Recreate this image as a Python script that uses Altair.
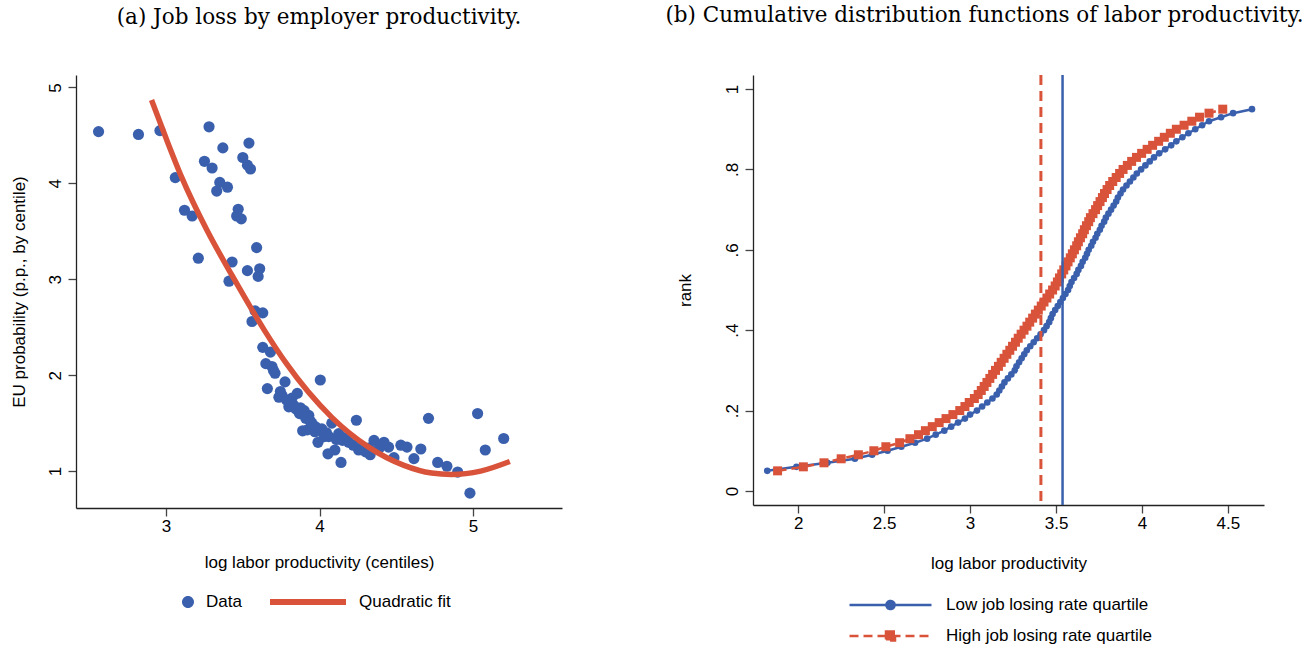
import altair as alt
import pandas as pd

BLUE = "#3a60ad"
RED = "#d9533b"
SANS = "Liberation Sans"
SERIF = "DejaVu Serif"

# ---------------- panel (a): job loss by employer productivity ----------------
data_x = [2.56, 2.82, 2.96, 3.06, 3.12, 3.17, 3.21, 3.25, 3.28, 3.30, 3.33, 3.35,
          3.37, 3.40, 3.41, 3.43, 3.46, 3.47, 3.49, 3.50, 3.53, 3.53, 3.54, 3.55,
          3.56, 3.58, 3.59, 3.60, 3.61, 3.63, 3.63, 3.65, 3.66, 3.68, 3.69, 3.70,
          3.71, 3.735, 3.745, 3.755, 3.775, 3.785, 3.80, 3.81, 3.82, 3.83, 3.845,
          3.855, 3.865, 3.87, 3.875, 3.89, 3.90, 3.91, 3.92, 3.93, 3.94, 3.95,
          3.96, 3.97, 3.975, 3.99, 4.005, 4.015, 4.03, 4.045, 4.055, 4.06, 4.08,
          4.10, 4.11, 4.125, 4.14, 4.15, 4.17, 4.19, 4.22, 4.24, 4.255, 4.28,
          4.30, 4.32, 4.33, 4.355, 4.39, 4.42, 4.45, 4.485, 4.53, 4.57, 4.615,
          4.66, 4.71, 4.77, 4.83, 4.90, 4.98, 5.03, 5.08, 5.20]
data_y = [4.54, 4.51, 4.55, 4.06, 3.72, 3.66, 3.22, 4.23, 4.59, 4.16, 3.92, 4.01,
          4.37, 3.96, 2.98, 3.18, 3.66, 3.73, 3.63, 4.27, 4.19, 3.09, 4.42, 4.15,
          2.56, 2.67, 3.33, 3.03, 3.11, 2.65, 2.29, 2.12, 1.86, 2.24, 2.09, 2.05,
          2.02, 1.77, 1.83, 1.79, 1.93, 1.74, 1.67, 1.72, 1.76, 1.69, 1.65,
          1.81, 1.62, 1.60, 1.66, 1.42, 1.63, 1.55, 1.43, 1.58, 1.52, 1.50,
          1.47, 1.41, 1.46, 1.30, 1.95, 1.44, 1.36, 1.40, 1.18, 1.36, 1.50,
          1.22, 1.33, 1.39, 1.09, 1.32, 1.35, 1.30, 1.27, 1.53, 1.22, 1.25,
          1.20, 1.24, 1.17, 1.32, 1.24, 1.30, 1.25, 1.14, 1.27, 1.25, 1.13,
          1.23, 1.55, 1.09, 1.05, 0.99, 0.77, 1.60, 1.22, 1.34]
fit_x = [2.905, 3.0, 3.1, 3.27, 3.43, 3.64, 3.78, 4.08, 4.32, 4.55, 4.73, 4.86, 5.05, 5.24]
fit_y = [4.87, 4.47, 4.07, 3.50, 3.04, 2.47, 2.13, 1.56, 1.25, 1.06, 0.98, 0.965, 1.00, 1.10]
series_a = ["Data", "Quadratic fit"]

# ---------------- panel (b): CDFs of labor productivity ----------------
rank = [0.05, 0.06, 0.07, 0.08, 0.09, 0.10, 0.11, 0.12, 0.13, 0.14, 0.15, 0.16,
        0.17, 0.18, 0.19, 0.20, 0.21, 0.22, 0.23, 0.24, 0.25, 0.26, 0.27, 0.28,
        0.29, 0.30, 0.31, 0.32, 0.33, 0.34, 0.35, 0.36, 0.37, 0.38, 0.39, 0.40,
        0.41, 0.42, 0.43, 0.44, 0.45, 0.46, 0.47, 0.48, 0.49, 0.50, 0.51, 0.52,
        0.53, 0.54, 0.55, 0.56, 0.57, 0.58, 0.59, 0.60, 0.61, 0.62, 0.63, 0.64,
        0.65, 0.66, 0.67, 0.68, 0.69, 0.70, 0.71, 0.72, 0.73, 0.74, 0.75, 0.76,
        0.77, 0.78, 0.79, 0.80, 0.81, 0.82, 0.83, 0.84, 0.85, 0.86, 0.87, 0.88,
        0.89, 0.90, 0.91, 0.92, 0.93, 0.94, 0.95]
low_x = [1.82, 1.99, 2.17, 2.33, 2.43, 2.52, 2.60, 2.68, 2.75, 2.80, 2.85, 2.89,
         2.93, 2.97, 3.00, 3.04, 3.07, 3.10, 3.13, 3.155, 3.17, 3.185, 3.20, 3.22,
         3.24, 3.26, 3.27, 3.285, 3.30, 3.315, 3.33, 3.35, 3.37, 3.39, 3.41, 3.43,
         3.445, 3.46, 3.47, 3.48, 3.495, 3.51, 3.525, 3.54, 3.555, 3.57, 3.58, 3.59,
         3.605, 3.62, 3.63, 3.645, 3.655, 3.67, 3.68, 3.69, 3.705, 3.715, 3.73, 3.74,
         3.755, 3.765, 3.78, 3.79, 3.805, 3.82, 3.835, 3.85, 3.86, 3.875, 3.89, 3.91,
         3.93, 3.95, 3.97, 3.995, 4.02, 4.045, 4.07, 4.10, 4.135, 4.17, 4.20, 4.235,
         4.27, 4.31, 4.35, 4.39, 4.46, 4.53, 4.64]
high_x = [1.88, 2.03, 2.15, 2.25, 2.35, 2.44, 2.51, 2.59, 2.65, 2.70, 2.74, 2.78,
          2.82, 2.86, 2.90, 2.94, 2.97, 2.995, 3.025, 3.047, 3.065, 3.082, 3.098, 3.115,
          3.131, 3.148, 3.165, 3.181, 3.198, 3.214, 3.231, 3.247, 3.264, 3.28, 3.297, 3.314,
          3.331, 3.347, 3.364, 3.38, 3.397, 3.414, 3.43, 3.447, 3.463, 3.48, 3.495, 3.508,
          3.52, 3.533, 3.545, 3.558, 3.57, 3.583, 3.595, 3.607, 3.62, 3.63, 3.642, 3.655,
          3.665, 3.677, 3.69, 3.70, 3.715, 3.73, 3.742, 3.756, 3.77, 3.782, 3.797, 3.812,
          3.83, 3.85, 3.87, 3.89, 3.915, 3.94, 3.968, 3.998, 4.03, 4.062, 4.097, 4.13,
          4.165, 4.20, 4.245, 4.29, 4.335, 4.39, 4.47]
group_names = ["Low job losing rate quartile", "High job losing rate quartile"]
group_means = [3.538, 3.412]

# ---------------- tables ----------------
scatter_df = pd.DataFrame({"x": data_x, "y": data_y, "series": series_a[0]})
fit_df = pd.DataFrame({"x": fit_x, "y": fit_y, "series": series_a[1]})
cdf_df = pd.DataFrame({
    "rank": rank + rank,
    "x": low_x + high_x,
    "group": [group_names[0]] * len(rank) + [group_names[1]] * len(rank),
})
mean_df = pd.DataFrame({"x": group_means, "group": group_names})

FS = 17
legend_common = dict(
    title=None, orient="none", padding=0, clipHeight=20, symbolOpacity=1,
    labelFont=SANS, labelFontSize=FS, labelColor="black", labelLimit=400,
)

CIRCLE_RIGHT = "M1.026,0A0.158,0.158,0,1,1,0.71,0A0.158,0.158,0,1,1,1.026,0Z"
THICK_LINE = "M-1,-0.08H1V0.08H-1Z"
legend_a = alt.Legend(
    direction="horizontal", legendX=41, legendY=517,
    symbolSize=5776, symbolStrokeWidth=0, columnPadding=28, labelOffset=13,
    symbolType=alt.ExprRef(f"datum.value == 'Data' ? '{CIRCLE_RIGHT}' : '{THICK_LINE}'"),
    symbolFillColor=alt.ExprRef(f"datum.value == 'Data' ? '{BLUE}' : '{RED}'"),
    **legend_common,
)

LINE_CIRCLE = "M-1,0H1M0.1,0A0.1,0.1,0,1,1,-0.1,0A0.1,0.1,0,1,1,0.1,0Z"
LINE_SQUARE = "M-1,0H1M-0.11,-0.11H0.11V0.11H-0.11Z"
HIGH = group_names[1]
legend_b = alt.Legend(
    direction="vertical", legendX=95, legendY=520,
    symbolSize=6724, symbolStrokeWidth=2.5, rowPadding=11, labelOffset=13,
    symbolType=alt.ExprRef(f"datum.value == '{HIGH}' ? '{LINE_SQUARE}' : '{LINE_CIRCLE}'"),
    symbolFillColor=alt.ExprRef(f"datum.value == '{HIGH}' ? '{RED}' : '{BLUE}'"),
    symbolStrokeColor=alt.ExprRef(f"datum.value == '{HIGH}' ? '{RED}' : '{BLUE}'"),
    symbolDash=alt.ExprRef(f"datum.value == '{HIGH}' ? [9, 5] : [1, 0]"),
    **legend_common,
)

title_style = dict(font=SERIF, fontSize=21.5, fontWeight="normal", color="black",
                   anchor="middle", baseline="alphabetic", offset=30)

# ---------------- panel (a) chart ----------------
xa = alt.X("x:Q", scale=alt.Scale(domain=[2.413, 5.58], nice=False, zero=False),
           axis=alt.Axis(values=[3, 4, 5], format="~g", title="log labor productivity (centiles)",
                         labelPadding=2, titlePadding=20))
ya = alt.Y("y:Q", scale=alt.Scale(domain=[0.615, 5.13], nice=False, zero=False),
           axis=alt.Axis(values=[1, 2, 3, 4, 5], format="~g", title="EU probability (p.p., by centile)",
                         labelAngle=270, labelAlign="center", labelBaseline="bottom",
                         labelPadding=4, titlePadding=18))
col_a = alt.Color("series:N", scale=alt.Scale(domain=series_a, range=[BLUE, RED]), legend=legend_a)

pts = alt.Chart(scatter_df).mark_circle(size=125, opacity=1).encode(x=xa, y=ya, color=col_a)
fit = alt.Chart(fit_df).mark_line(strokeWidth=5.5, interpolate="monotone").encode(
    x="x:Q", y="y:Q", color=col_a)

panel_a = alt.layer(pts, fit).properties(
    width=486, height=433,
    title=alt.TitleParams("(a) Job loss by employer productivity.", **title_style),
)

# ---------------- panel (b) chart ----------------
xb = alt.X("x:Q", scale=alt.Scale(domain=[1.737, 4.71], nice=False, zero=False),
           axis=alt.Axis(values=[2, 2.5, 3, 3.5, 4, 4.5], format="~g", title="log labor productivity",
                         labelPadding=2, titlePadding=24))
yb = alt.Y("rank:Q", scale=alt.Scale(domain=[-0.035, 1.035], nice=False, zero=False),
           axis=alt.Axis(values=[0, 0.2, 0.4, 0.6, 0.8, 1], title="rank",
                         labelExpr="replace(format(datum.value, '~g'), '0.', '.')",
                         labelAngle=270, labelAlign="center", labelBaseline="bottom",
                         labelPadding=4, titlePadding=29))
col_b = alt.Color("group:N", scale=alt.Scale(domain=group_names, range=[BLUE, RED]), legend=legend_b)

base_b = alt.Chart(cdf_df)
low_line = base_b.transform_filter(alt.datum.group == group_names[0]).mark_line(
    strokeWidth=2.5).encode(x=xb, y=yb, color=col_b)
low_pts = base_b.transform_filter(alt.datum.group == group_names[0]).mark_point(
    shape="circle", filled=True, size=44, opacity=1).encode(x="x:Q", y="rank:Q", color=col_b)
high_line = base_b.transform_filter(alt.datum.group == group_names[1]).mark_line(
    strokeWidth=2.5, strokeDash=[9, 5]).encode(x="x:Q", y="rank:Q", color=col_b)
high_pts = base_b.transform_filter(alt.datum.group == group_names[1]).mark_point(
    shape="square", filled=True, size=81, opacity=1).encode(x="x:Q", y="rank:Q", color=col_b)
low_rule = alt.Chart(mean_df).transform_filter(alt.datum.group == group_names[0]).mark_rule(
    strokeWidth=2.5).encode(x="x:Q", color=col_b)
high_rule = alt.Chart(mean_df).transform_filter(alt.datum.group == group_names[1]).mark_rule(
    strokeWidth=3, strokeDash=[10, 6]).encode(x="x:Q", color=col_b)

panel_b = alt.layer(low_line, low_pts, high_line, high_pts, low_rule, high_rule).properties(
    width=511, height=430,
    title=alt.TitleParams("(b) Cumulative distribution functions of labor productivity.",
                          dx=-24, **title_style),
)

chart = alt.hconcat(panel_a, panel_b, spacing=191, bounds="flush").resolve_scale(
    color="independent"
).properties(
    padding={"left": 10, "top": 5, "right": 5, "bottom": 5},
).configure_view(stroke=None).configure_axis(
    grid=False, domainColor="#222222", domainWidth=1.3, tickColor="#444444", tickWidth=1.3,
    tickSize=8, labelFont=SANS, labelFontSize=FS, labelColor="black",
    titleFont=SANS, titleFontSize=FS, titleFontWeight="normal", titleColor="black",
)

chart.save("out.html", embed_options={"renderer": "svg", "actions": False})
